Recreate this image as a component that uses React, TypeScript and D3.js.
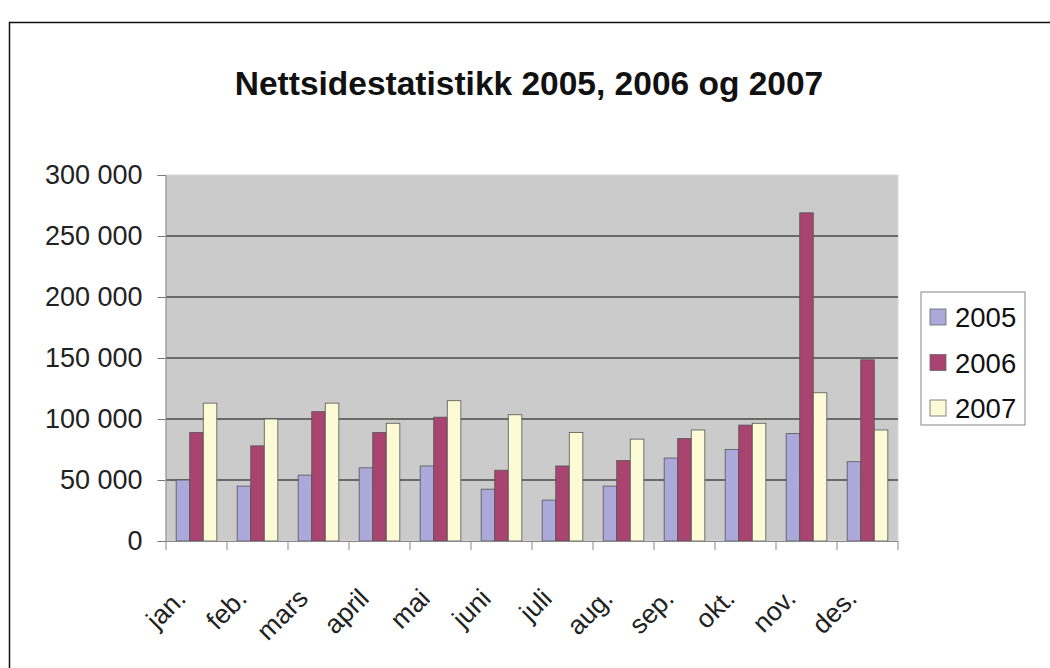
import * as d3 from 'd3';
import React, { useEffect, useRef } from 'react';

const months = ['jan.', 'feb.', 'mars', 'april', 'mai', 'juni', 'juli', 'aug.', 'sep.', 'okt.', 'nov.', 'des.'];
const seriesNames = ['2005', '2006', '2007'];
const values2005 = [50000, 45000, 54000, 60000, 61500, 42500, 33500, 45000, 68000, 75000, 88000, 65000];
const values2006 = [89000, 78000, 106000, 89000, 101500, 58000, 61500, 66000, 84000, 95000, 269000, 148500];
const values2007 = [113000, 100000, 113000, 96500, 115000, 103500, 89000, 83500, 91000, 96500, 121500, 91000];
const yTicks = [0, 50000, 100000, 150000, 200000, 250000, 300000];
const colors = ['#aaa9d9', '#a8446f', '#fdfad6'];

const FONT = '"Liberation Sans", Arial, sans-serif';

export default function App() {
  const ref = useRef<SVGSVGElement>(null);

  useEffect(() => {
    const svg = d3.select(ref.current);
    svg.selectAll('*').remove();

    const left = 166;
    const right = 898;
    const top = 175;
    const bottom = 541;

    // outer chart border
    svg
      .append('rect')
      .attr('x', 9.5)
      .attr('y', 22.5)
      .attr('width', 1100)
      .attr('height', 700)
      .attr('fill', 'white')
      .attr('stroke', '#111')
      .attr('stroke-width', 1.5);

    svg
      .append('text')
      .attr('x', 529)
      .attr('y', 94.5)
      .attr('text-anchor', 'middle')
      .attr('font-family', FONT)
      .attr('font-weight', 'bold')
      .attr('font-size', 33.5)
      .attr('fill', '#111')
      .text('Nettsidestatistikk 2005, 2006 og 2007');

    const x = d3.scaleBand<string>().domain(months).range([left, right]).paddingInner(0);
    const xInner = d3
      .scaleBand<string>()
      .domain(seriesNames)
      .range([0, x.bandwidth()])
      .paddingInner(0)
      .paddingOuter(0.75);
    const y = d3.scaleLinear().domain([0, 300000]).range([bottom, top]);

    // plot area
    svg
      .append('rect')
      .attr('x', left)
      .attr('y', top)
      .attr('width', right - left)
      .attr('height', bottom - top)
      .attr('fill', '#cbcbcb')
      .attr('stroke', '#d8d8d8');

    svg
      .append('g')
      .selectAll('line')
      .data(yTicks.filter((t) => t > 0 && t < 300000))
      .join('line')
      .attr('x1', left)
      .attr('x2', right)
      .attr('y1', (d) => y(d))
      .attr('y2', (d) => y(d))
      .attr('stroke', '#4a4a4a')
      .attr('stroke-width', 1.3);

    const series = [values2005, values2006, values2007];
    const bars = svg.append('g');
    series.forEach((vals, si) => {
      bars
        .append('g')
        .selectAll('rect')
        .data(vals)
        .join('rect')
        .attr('x', (_, i) => (x(months[i]) ?? 0) + (xInner(seriesNames[si]) ?? 0))
        .attr('y', (d) => y(d))
        .attr('width', xInner.bandwidth())
        .attr('height', (d) => y(0) - y(d))
        .attr('fill', colors[si])
        .attr('stroke', '#555')
        .attr('stroke-width', 0.8);
    });

    // y axis
    const fmt = (d: number) => d3.format(',')(d).replace(/,/g, ' ');
    const yAxis = svg
      .append('g')
      .attr('transform', `translate(${left - 0.5},0)`)
      .call(
        d3
          .axisLeft(y)
          .tickValues(yTicks)
          .tickSize(8)
          .tickPadding(15)
          .tickFormat((d) => fmt(d as number))
      );
    yAxis.select('.domain').attr('stroke', '#888');
    yAxis.selectAll('.tick line').attr('stroke', '#777');
    yAxis
      .selectAll('.tick text')
      .attr('font-family', FONT)
      .attr('font-size', 27)
      .attr('fill', '#222');

    // x axis
    svg
      .append('line')
      .attr('x1', left)
      .attr('x2', right)
      .attr('y1', bottom + 0.5)
      .attr('y2', bottom + 0.5)
      .attr('stroke', '#888');

    const boundaries = [...months.map((m) => x(m) ?? 0), right];
    svg
      .append('g')
      .selectAll('line')
      .data(boundaries)
      .join('line')
      .attr('x1', (d) => d)
      .attr('x2', (d) => d)
      .attr('y1', bottom)
      .attr('y2', bottom + 9)
      .attr('stroke', '#888');

    svg
      .append('g')
      .selectAll('text')
      .data(months)
      .join('text')
      .attr('transform', (d) => `translate(${(x(d) ?? 0) + x.bandwidth() / 2 - 9},600) rotate(-45)`)
      .attr('text-anchor', 'end')
      .attr('font-family', FONT)
      .attr('font-size', 26.5)
      .attr('fill', '#222')
      .text((d) => d);

    // legend
    const legend = svg.append('g');
    legend
      .append('rect')
      .attr('x', 921)
      .attr('y', 292)
      .attr('width', 104)
      .attr('height', 133)
      .attr('fill', 'white')
      .attr('stroke', '#999')
      .attr('stroke-width', 1.2);
    const items = legend
      .selectAll('g.item')
      .data(seriesNames)
      .join('g')
      .attr('class', 'item')
      .attr('transform', (_, i) => `translate(930,${317 + i * 45.5})`);
    items
      .append('rect')
      .attr('x', 0)
      .attr('y', -8)
      .attr('width', 16)
      .attr('height', 16)
      .attr('fill', (_, i) => colors[i])
      .attr('stroke', '#666')
      .attr('stroke-width', 0.8);
    items
      .append('text')
      .attr('x', 25)
      .attr('y', 10)
      .attr('font-family', FONT)
      .attr('font-size', 27.5)
      .attr('fill', '#111')
      .text((d) => d);
  }, []);

  return (
    <svg
      ref={ref}
      width={1050}
      height={668}
      style={{ position: 'absolute', left: 0, top: 0, background: 'white' }}
    />
  );
}
